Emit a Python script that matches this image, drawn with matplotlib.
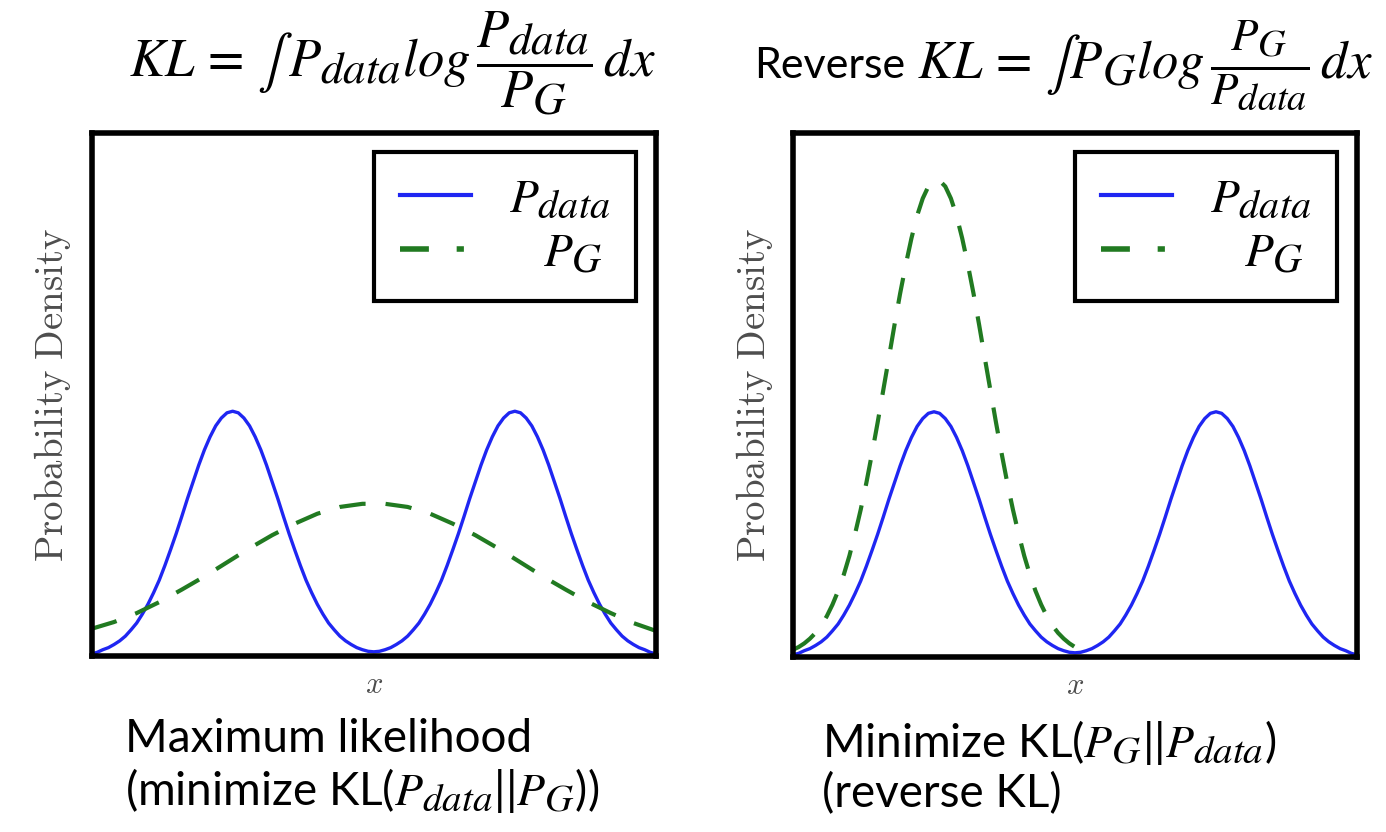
import numpy as np
import matplotlib
matplotlib.use("Agg")
import matplotlib.pyplot as plt
import matplotlib._mathtext as mathtext
from matplotlib.lines import Line2D

plt.rcParams['mathtext.fontset'] = 'stix'
plt.rcParams['font.family'] = ['Lato', 'DejaVu Sans']
# subscripts in the slide equations are almost full size
mathtext.SHRINK_FACTOR = 0.85

# P_data: two bumps, same curve in both panels (x normalised to the box width)
x_data = np.linspace(0.0, 1.0, 101)
p_data = [0.004, 0.007, 0.012, 0.016, 0.022, 0.029, 0.038, 0.050, 0.063, 0.080,
          0.099, 0.121, 0.145, 0.173, 0.203, 0.234, 0.267, 0.301, 0.333, 0.365,
          0.394, 0.419, 0.440, 0.455, 0.465, 0.468, 0.465, 0.455, 0.440, 0.419,
          0.394, 0.365, 0.333, 0.301, 0.267, 0.234, 0.203, 0.173, 0.145, 0.121,
          0.099, 0.080, 0.063, 0.050, 0.038, 0.029, 0.022, 0.016, 0.012, 0.009,
          0.008,
          0.009, 0.012, 0.016, 0.022, 0.029, 0.038, 0.050, 0.063, 0.080, 0.099,
          0.121, 0.145, 0.173, 0.203, 0.234, 0.267, 0.301, 0.333, 0.365, 0.394,
          0.419, 0.440, 0.455, 0.465, 0.468, 0.465, 0.455, 0.440, 0.419, 0.394,
          0.365, 0.333, 0.301, 0.267, 0.234, 0.203, 0.173, 0.145, 0.121, 0.099,
          0.080, 0.063, 0.050, 0.038, 0.029, 0.022, 0.016, 0.012, 0.007, 0.004]

# P_G for maximum likelihood: one wide bump over both modes
x_g_ml = np.linspace(0.0, 1.0, 26)
p_g_ml = [0.052, 0.065, 0.082, 0.103, 0.127, 0.152, 0.179, 0.206, 0.231, 0.253,
          0.272, 0.285, 0.291, 0.291, 0.285, 0.272, 0.253, 0.231, 0.206, 0.179,
          0.152, 0.127, 0.103, 0.082, 0.063, 0.048]

# P_G for reverse KL: narrow tall bump on the left mode
x_g_rev = np.linspace(0.0, 0.52, 53)
p_g_rev = [0.014, 0.019, 0.026, 0.035, 0.046, 0.060, 0.078, 0.100, 0.126, 0.157,
           0.193, 0.235, 0.281, 0.332, 0.388, 0.447, 0.509, 0.571, 0.634, 0.694,
           0.749, 0.799, 0.842, 0.875, 0.898, 0.909, 0.909, 0.898, 0.875, 0.842,
           0.799, 0.749, 0.694, 0.634, 0.571, 0.509, 0.447, 0.388, 0.332, 0.281,
           0.235, 0.193, 0.157, 0.126, 0.100, 0.078, 0.060, 0.046, 0.035, 0.026,
           0.019, 0.014, 0.010]

blue = '#1f26f2'
green = '#217a21'
W, H = 1386, 832

fig = plt.figure(figsize=(W/100, H/100), dpi=100)
ax1 = fig.add_axes([91.5/W, 1-656/H, 564.5/W, 523/H])
ax2 = fig.add_axes([793/W, 1-657/H, 564/W, 524/H])


def panel(ax, xg, pg):
	ax.plot(x_data, p_data, color=blue, lw=2.4)
	ax.plot(xg, pg, color=green, lw=3, dashes=(6.3, 4.8))
	ax.set_xlim(0, 1)
	ax.set_ylim(0, 1)
	ax.set_xticks([])
	ax.set_yticks([])
	for s in ax.spines.values():
		s.set_linewidth(4)
		s.set_color('black')
	ax.set_ylabel(r'$\mathrm{Probability\ Density}$', math_fontfamily='cm',
	              fontsize=28, color='#4d4d4d', labelpad=13)
	ax.set_xlabel('$x$', math_fontfamily='cm', fontsize=22, color='#4d4d4d',
	              labelpad=10)
	handles = [Line2D([], [], color=blue, lw=3),
	           Line2D([], [], color=green, lw=4, dashes=(5.2, 5, 1.3, 30))]
	leg = ax.legend(handles, ['$P_{data}$', r'$\quad P_G$'],
	                loc='upper right', bbox_to_anchor=(0.965, 0.964),
	                borderaxespad=0, fontsize=34, handlelength=1.5,
	                handletextpad=0.8, borderpad=0.55, labelspacing=0.25,
	                fancybox=False, framealpha=1, edgecolor='black')
	leg.get_frame().set_linewidth(3)


panel(ax1, x_g_ml, p_g_ml)
panel(ax2, x_g_rev, p_g_rev)

fig.text(392/W, 1-76/H,
         r'$KL\,=\,\int\, P_{data} log\,\dfrac{P_{data}}{P_G}\, dx$',
         ha='center', va='baseline', fontsize=38)
fig.text(905/W, 1-78/H, 'Reverse', ha='right', va='baseline', fontsize=31)
fig.text(917/W, 1-78/H,
         r'$KL\,=\,\int P_G log\,\frac{P_G}{P_{data}}\, dx$',
         ha='left', va='baseline', fontsize=38)

fig.text(125/W, 1-718/H, 'Maximum likelihood\n(minimize KL($P_{data}$||$P_G$))',
         ha='left', va='top', fontsize=33, linespacing=1.15)
fig.text(822/W, 1-718/H, 'Minimize KL($P_G$||$P_{data}$)\n(reverse KL)',
         ha='left', va='top', fontsize=33, linespacing=1.15)

fig.savefig('out.png', dpi=100)
